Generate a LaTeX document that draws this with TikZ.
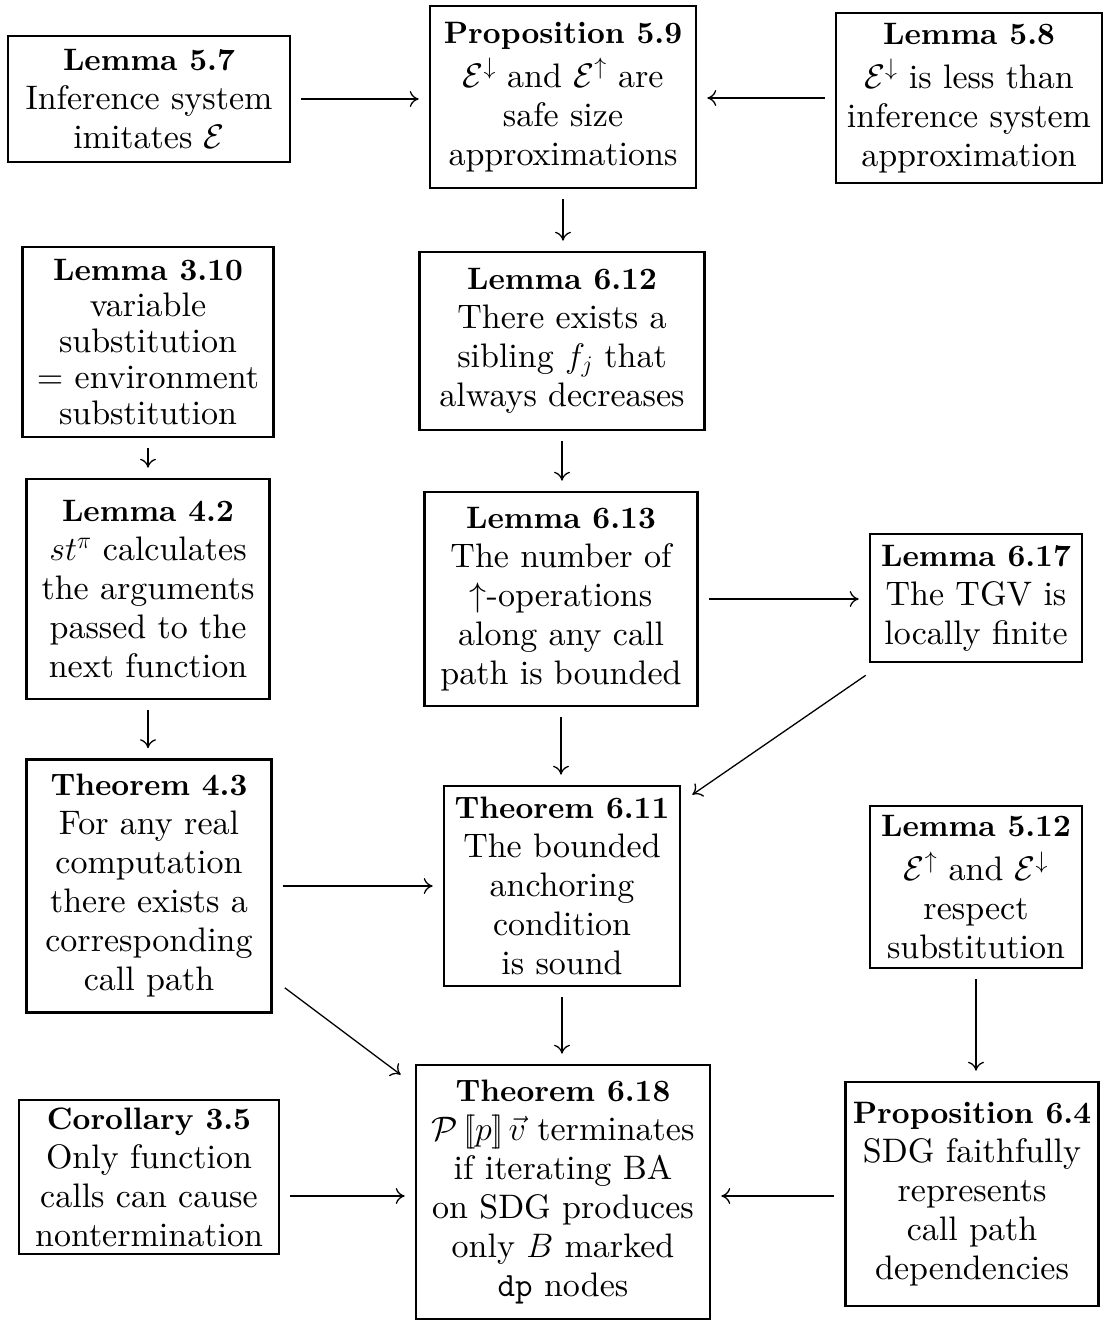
\RequirePackage{fix-cm}
\documentclass[tikz,border=0pt]{standalone}
\usepackage{amsmath}
\usepackage{fontspec}
\setmainfont{lmroman10}[Extension=.otf, UprightFont=*-regular,
  BoldFont=*-bold, ItalicFont=*-italic, BoldItalicFont=*-bolditalic]
\usetikzlibrary{arrows.meta}
% heading line of each result box
\newcommand\thmhead[1]{{\fontsize{31}{39}\selectfont\bfseries #1}}
\begin{document}
\begin{tikzpicture}[x=1pt,y=-1pt,
  box/.style={draw, line width=2.6pt, align=center, inner sep=0pt,
    font=\fontsize{34}{39}\selectfont},
  arr/.style={line width=1.3pt, -{To[length=9pt,width=16pt]},
    shorten <=10pt, shorten >=10pt}]
\useasboundingbox (0,0) rectangle (1104,1322);

% top row
\node[box, minimum width=282, minimum height=126] (l57) at (149,99)
  {\thmhead{Lemma 5.7}\\Inference system\\imitates $\mathcal{E}$};
\node[box, minimum width=266, minimum height=182] (p59) at (563,97)
  {\thmhead{Proposition 5.9}\\[5pt]$\mathcal{E}^{\downarrow}$ and $\mathcal{E}^{\uparrow}$ are\\safe size\\approximations};
\node[box, minimum width=266, minimum height=170] (l58) at (969,98)
  {\thmhead{Lemma 5.8}\\[5pt]$\mathcal{E}^{\downarrow}$ is less than\\inference system\\approximation};

% second row
\node[box, minimum width=251, minimum height=190, font=\fontsize{34}{36}\selectfont] (l310) at (148,342)
  {\thmhead{Lemma 3.10}\\variable\\substitution\\= environment\\substitution};
\node[box, minimum width=285, minimum height=178] (l612) at (562,341)
  {\thmhead{Lemma 6.12}\\There exists a\\sibling $f_j$ that\\always decreases};

% third row
\node[box, minimum width=243, minimum height=220] (l42) at (148,589)
  {\thmhead{Lemma 4.2}\\$st^{\pi}$ calculates\\the arguments\\passed to the\\next function};
\node[box, minimum width=273, minimum height=214] (l613) at (561,599)
  {\thmhead{Lemma 6.13}\\The number of\\$\uparrow$-operations\\along any call\\path is bounded};
\node[box, minimum width=212, minimum height=128] (l617) at (976,598)
  {\thmhead{Lemma 6.17}\\The TGV is\\locally finite};

% fourth row
\node[box, minimum width=245, minimum height=253] (t43) at (149,886)
  {\thmhead{Theorem 4.3}\\For any real\\computation\\there exists a\\corresponding\\call path};
\node[box, minimum width=236, minimum height=200] (t611) at (562,886)
  {\thmhead{Theorem 6.11}\\The bounded\\anchoring\\condition\\is sound};
\node[box, minimum width=212, minimum height=162] (l512) at (976,887)
  {\thmhead{Lemma 5.12}\\[5pt]$\mathcal{E}^{\uparrow}$ and $\mathcal{E}^{\downarrow}$\\respect\\substitution};

% bottom row
\node[box, minimum width=260, minimum height=154] (c35) at (149,1177)
  {\thmhead{Corollary 3.5}\\Only function\\calls can cause\\nontermination};
\node[box, minimum width=294, minimum height=254] (t618) at (563,1192)
  {\thmhead{Theorem 6.18}\\$\mathcal{P}\,[\![p]\!]\,\vec{v}$ terminates\\if iterating BA\\on SDG produces\\only $B$ marked\\\texttt{dp} nodes};
\node[box, minimum width=253, minimum height=224] (p64) at (972,1194)
  {\thmhead{Proposition 6.4}\\SDG faithfully\\represents\\call path\\dependencies};

% horizontal dependencies
\draw[arr] (l57.east) -- (l57.east -| p59.west);
\draw[arr] (l58.west) -- (l58.west -| p59.east);
\draw[arr] (l613.east) -- (l613.east -| l617.west);
\draw[arr] (t43.east) -- (t43.east -| t611.west);
\draw[arr] ([yshift=-19pt]c35.east) -- ([yshift=-19pt]c35.east -| t618.west);
\draw[arr] ([yshift=-2pt]p64.west) -- ([yshift=-2pt]p64.west -| t618.east);

% vertical dependencies
\draw[arr] (p59.south) -- (p59.south |- l612.north);
\draw[arr] (l310.south) -- (l310.south |- l42.north);
\draw[arr] (l612.south) -- (l612.south |- l613.north);
\draw[arr] (l42.south) -- (l42.south |- t43.north);
\draw[arr] (l613.south) -- (l613.south |- t611.north);
\draw[arr] (t611.south) -- (t611.south |- t618.north);
\draw[arr] (l512.south) -- (l512.south |- p64.north);

% diagonal dependencies
\draw[arr, shorten <=0pt, shorten >=0pt]
  ([shift={(-3pt,-12pt)}]l617.south west) -- ([shift={(11pt,-10pt)}]t611.north east);
\draw[arr, shorten <=0pt, shorten >=0pt]
  ([shift={(12pt,26pt)}]t43.south east) -- ([shift={(-14pt,-11pt)}]t618.north west);
\end{tikzpicture}
\end{document}
